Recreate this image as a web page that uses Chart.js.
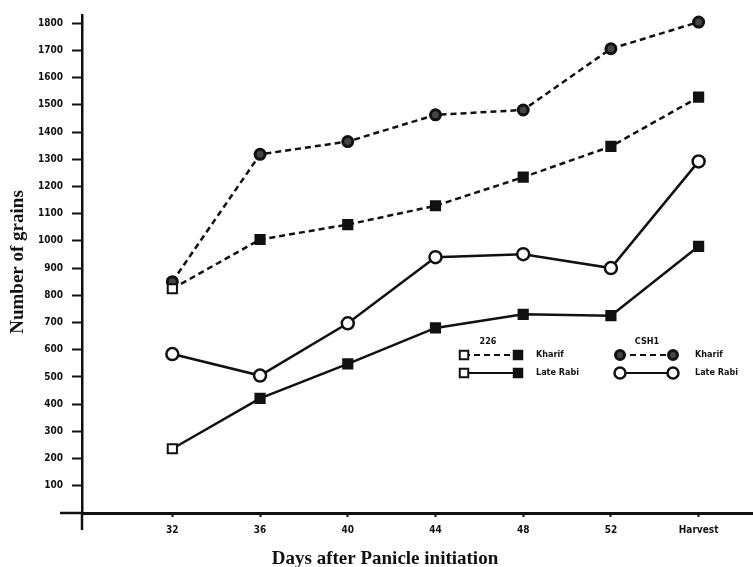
<!DOCTYPE html>
<html>
<head>
<meta charset="utf-8">
<script src="https://cdn.jsdelivr.net/npm/chart.js@4/dist/chart.umd.min.js"></script>
<style>
  html, body { margin: 0; padding: 0; background: #fff; }
  #grafico { display: block; }
</style>
</head>
<body>
<canvas id="grafico" width="753" height="567"></canvas>
<script>
// x categories (days after panicle initiation)
const days = ['32', '36', '40', '44', '48', '52', 'Harvest'];
const yTicks = [100, 200, 300, 400, 500, 600, 700, 800, 900, 1000,
  1100, 1200, 1300, 1400, 1500, 1600, 1700, 1800];

// number of grains per series
const kharif226 = [824, 1005, 1060, 1129, 1234, 1347, 1528];
const lateRabi226 = [236, 421, 548, 680, 730, 725, 980];
const kharifCSH1 = [850, 1318, 1365, 1463, 1481, 1706, 1804];
const lateRabiCSH1 = [584, 505, 697, 940, 951, 900, 1292];

const INK = '#111';
const tickFont = { family: '"DejaVu Sans Condensed", "DejaVu Sans", sans-serif', size: 10, weight: 'bold' };
const titleFont = 'bold 19px "Liberation Serif", "DejaVu Serif", serif';

const pts = arr => arr.map((v, i) => ({ x: i + 1, y: v }));
const firstHollow = c => c.dataIndex === 0 ? '#fff' : INK;

const styles = {
  kharif226:   { pointStyle: 'rect',   radius: 6.5, fill: firstHollow, dash: [6, 4], bw: 2 },
  lateRabi226: { pointStyle: 'rect',   radius: 6.5, fill: firstHollow, dash: [],     bw: 2 },
  kharifCSH1:  { pointStyle: 'circle', radius: 5,   fill: '#444',      dash: [6, 4], bw: 3 },
  lateRabiCSH1:{ pointStyle: 'circle', radius: 6,   fill: '#fff',      dash: [],     bw: 2.5 }
};

function ds(label, arr, s) {
  return {
    label, data: pts(arr),
    borderColor: INK, borderWidth: 2.5, borderDash: s.dash,
    pointStyle: s.pointStyle, pointRadius: s.radius,
    pointBackgroundColor: s.fill, pointBorderColor: INK, pointBorderWidth: s.bw,
    tension: 0, fill: false
  };
}

// axis overhangs, key and axis titles
const extras = {
  id: 'extras',
  afterDraw(chart) {
    const ctx = chart.ctx;
    const a = chart.chartArea;
    const H = Chart.helpers;
    ctx.save();
    ctx.strokeStyle = INK;
    ctx.lineWidth = 2.5;
    ctx.beginPath();
    ctx.moveTo(60, a.bottom); ctx.lineTo(a.left, a.bottom);
    ctx.moveTo(a.left, a.bottom); ctx.lineTo(a.left, a.bottom + 17);
    ctx.stroke();

    // key
    ctx.fillStyle = INK;
    ctx.font = 'bold 9px "DejaVu Sans Condensed", "DejaVu Sans", sans-serif';
    ctx.textAlign = 'center';
    ctx.textBaseline = 'middle';
    ctx.fillText('226', 488, 342);
    ctx.fillText('CSH1', 647, 342);

    const rows = [
      [styles.kharif226, 464, 518, 355, 'Kharif', 536],
      [styles.lateRabi226, 464, 518, 373, 'Late Rabi', 536],
      [styles.kharifCSH1, 620, 673, 355, 'Kharif', 695],
      [styles.lateRabiCSH1, 620, 673, 373, 'Late Rabi', 695]
    ];
    rows.forEach(([s, x1, x2, y, txt, tx]) => {
      ctx.setLineDash(s.dash);
      ctx.lineWidth = 2;
      ctx.beginPath(); ctx.moveTo(x1, y); ctx.lineTo(x2, y); ctx.stroke();
      ctx.setLineDash([]);
      [x1, x2].forEach((x, k) => {
        const f = typeof s.fill === 'function' ? s.fill({ dataIndex: k }) : s.fill;
        ctx.fillStyle = f;
        ctx.lineWidth = s.bw;
        H.drawPoint(ctx, { pointStyle: s.pointStyle, radius: s.radius - 0.5, rotation: 0, borderWidth: s.bw }, x, y);
      });
      ctx.fillStyle = INK;
      ctx.textAlign = 'left';
      ctx.fillText(txt, tx, y);
    });

    // axis titles
    ctx.font = titleFont;
    ctx.textAlign = 'center';
    ctx.fillText('Days after Panicle initiation', 385, 559);
    ctx.translate(18, 262);
    ctx.rotate(-Math.PI / 2);
    ctx.fillText('Number of grains', 0, 0);
    ctx.restore();
  }
};

new Chart(document.getElementById('grafico'), {
  type: 'line',
  data: {
    datasets: [
      ds('226 Kharif', kharif226, styles.kharif226),
      ds('226 Late Rabi', lateRabi226, styles.lateRabi226),
      ds('CSH1 Kharif', kharifCSH1, styles.kharifCSH1),
      ds('CSH1 Late Rabi', lateRabiCSH1, styles.lateRabiCSH1)
    ]
  },
  options: {
    responsive: false,
    animation: false,
    layout: { autoPadding: false, padding: { top: 9, left: 0, right: 0, bottom: 0 } },
    plugins: { legend: { display: false }, tooltip: { enabled: false } },
    scales: {
      x: {
        type: 'linear', min: -0.03, max: 7.62,
        afterBuildTicks: s => { s.ticks = days.map((d, i) => ({ value: i + 1 })); },
        afterFit: s => { s.height = 54; },
        border: { color: INK, width: 3 },
        grid: { drawOnChartArea: false, tickLength: 4, tickColor: INK, tickWidth: 2 },
        ticks: {
          color: INK, font: tickFont, padding: 7, maxRotation: 0,
          callback: v => days[Math.round(v) - 1] || ''
        }
      },
      y: {
        min: 0, max: 1830,
        afterBuildTicks: s => { s.ticks = yTicks.map(v => ({ value: v })); },
        afterFit: s => { s.width = 82; },
        border: { color: INK, width: 2.5 },
        grid: { drawOnChartArea: false, tickLength: 10, tickColor: INK, tickWidth: 2 },
        ticks: { color: INK, font: tickFont, padding: 9, callback: v => String(v) }
      }
    }
  },
  plugins: [extras]
});
</script>
</body>
</html>
